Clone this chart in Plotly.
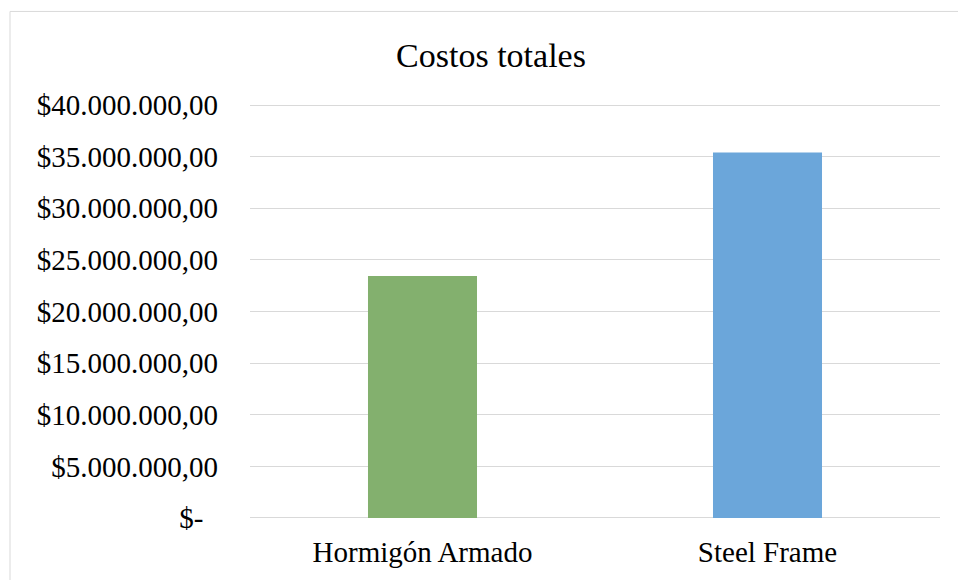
import plotly.graph_objects as go

# Total cost per construction system
categories = ["Hormigón Armado", "Steel Frame"]
costs = [23450000, 35400000]
bar_colors = ["#83B06E", "#6BA6DA"]

tick_values = [0, 5000000, 10000000, 15000000, 20000000, 25000000, 30000000, 35000000, 40000000]
tick_labels = ["$-\u00a0\u00a0", "$5.000.000,00", "$10.000.000,00", "$15.000.000,00",
               "$20.000.000,00", "$25.000.000,00", "$30.000.000,00", "$35.000.000,00",
               "$40.000.000,00"]

W, H = 958, 580
ML, MR, MT, MB = 250, 18, 104, 59
font_family = "Liberation Serif, Times New Roman, serif"
y_min, y_max = -100000, 40100000

fig = go.Figure(
    go.Bar(
        x=categories,
        y=costs,
        marker=dict(color=bar_colors, line=dict(width=0)),
        width=0.316,
        hoverinfo="x+y",
    )
)

pw = W - ML - MR
ph = H - MT - MB
# chart-area frame (left and top edges visible)
x0 = (10 - ML) / pw
y0 = (H - MB - 11) / ph
fig.add_shape(
    type="path",
    xref="paper", yref="paper",
    path=f"M {x0} -0.3 L {x0} {y0} L 1.2 {y0}",
    line=dict(color="#D9D9D9", width=1),
    layer="below",
)

fig.update_layout(
    width=W, height=H,
    margin=dict(l=ML, r=MR, t=MT, b=MB),
    paper_bgcolor="white",
    plot_bgcolor="white",
    showlegend=False,
    font=dict(family=font_family, color="#000000", size=29),
    title=dict(
        text="Costos totales",
        font=dict(family=font_family, size=34, color="#000000"),
        x=491 / W, xref="container", xanchor="center",
        y=1 - 55 / H, yref="container", yanchor="middle",
    ),
    xaxis=dict(
        showgrid=False, showline=False, zeroline=False, ticks="",
        tickfont=dict(size=29),
        ticklabelstandoff=13,
    ),
    yaxis=dict(
        range=[y_min, y_max], autorange=False,
        tickmode="array", tickvals=tick_values, ticktext=tick_labels,
        showgrid=True, gridcolor="#D9D9D9", gridwidth=1,
        zeroline=True, zerolinecolor="#D9D9D9", zerolinewidth=1,
        showline=False, ticks="",
        tickfont=dict(size=29),
        ticklabelstandoff=31,
    ),
)

fig.write_html("out.html")
